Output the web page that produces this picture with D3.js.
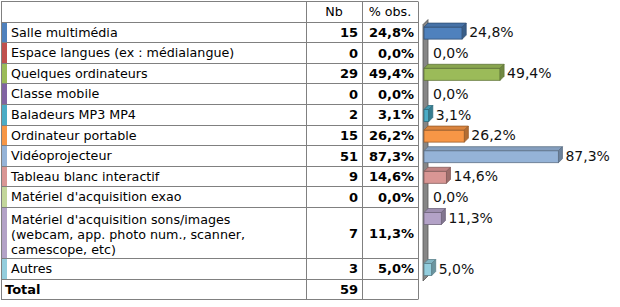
<!DOCTYPE html>
<html>
<head>
<meta charset="utf-8">
<script src="https://cdn.jsdelivr.net/npm/d3@7"></script>
<style>
  body { margin: 0; background: #fff; }
  svg { display: block; font-family: "DejaVu Sans", Verdana, sans-serif; }
</style>
</head>
<body>
<svg id="chart"></svg>
<script>
// data
let categories = [
  "Salle multimédia",
  "Espace langues (ex : médialangue)",
  "Quelques ordinateurs",
  "Classe mobile",
  "Baladeurs MP3 MP4",
  "Ordinateur portable",
  "Vidéoprojecteur",
  "Tableau blanc interactif",
  "Matériel d'acquisition exao",
  "Matériel d'acquisition sons/images\n(webcam, app. photo num., scanner,\ncamescope, etc)",
  "Autres",
];
let counts = [15, 0, 29, 0, 2, 15, 51, 9, 0, 7, 3];
let percents = [24.8, 0, 49.4, 0, 3.1, 26.2, 87.3, 14.6, 0, 11.3, 5.0];
let headers = ["", "Nb", "% obs."];
let totalLabel = "Total";
let totalCount = 59;

let colors = [
  "#4f81bd", "#c0504d", "#9bbb59", "#8064a2", "#4bacc6", "#f79646",
  "#95b3d7", "#d99694", "#c3d69b", "#b3a2c7", "#93cddd",
];

let width = 620;
let height = 307;
let rowH = 20.6;
let lineH = 15;
let gridColor = "#808080";

let svg = d3.select("#chart").attr("width", width).attr("height", height);

let fmt = (v) => v.toFixed(1).replace(".", ",") + "%";

// row layout: header, one row per category, total
let rows = [];
let y = 1;
rows.push({ type: "header", top: y, h: rowH });
y += rowH;
categories.forEach((c, i) => {
  let lines = c.split("\n");
  let h = lines.length > 1 ? lineH * lines.length + 6 : rowH;
  rows.push({ type: "data", i: i, lines: lines, top: y, h: h });
  y += h;
});
rows.push({ type: "total", top: y, h: rowH });
y += rowH;
let tableBottom = y;

// columns
let colX = [1, 306, 362, 418];

let table = svg.append("g");

// horizontal grid lines
let hLines = rows.map((r) => r.top).concat([tableBottom]);
table
  .selectAll("line.h")
  .data(hLines)
  .enter()
  .append("line")
  .attr("x1", colX[0])
  .attr("x2", colX[3])
  .attr("y1", (d) => Math.round(d) + 0.5)
  .attr("y2", (d) => Math.round(d) + 0.5)
  .attr("stroke", gridColor);

table
  .selectAll("line.v")
  .data(colX)
  .enter()
  .append("line")
  .attr("x1", (d) => d + 0.5)
  .attr("x2", (d) => d + 0.5)
  .attr("y1", Math.round(rows[0].top) + 0.5)
  .attr("y2", Math.round(tableBottom) + 0.5)
  .attr("stroke", gridColor);

// colour stripes
let dataRows = rows.filter((r) => r.type == "data");
table
  .selectAll("rect.stripe")
  .data(dataRows)
  .enter()
  .append("rect")
  .attr("x", 2)
  .attr("y", (d) => Math.round(d.top) + 1)
  .attr("width", 5)
  .attr("height", (d) => Math.round(d.top + d.h) - Math.round(d.top) - 1)
  .attr("fill", (d) => colors[d.i]);

// header texts
table
  .selectAll("text.head")
  .data([1, 2])
  .enter()
  .append("text")
  .attr("x", (c) => (colX[c] + colX[c + 1]) / 2)
  .attr("y", rows[0].top + 15)
  .attr("text-anchor", "middle")
  .attr("font-size", 12.7)
  .attr("fill", "#000")
  .text((c) => headers[c]);

// label texts
let labelSize = 12.7;
let valueSize = 13;
dataRows.forEach((r) => {
  let t = table
    .append("text")
    .attr("x", 11)
    .attr("font-size", labelSize)
    .attr("fill", "#000");
  let first = r.lines.length > 1 ? r.top + 17 : r.top + 15;
  r.lines.forEach((l, k) => {
    t.append("tspan").attr("x", 11).attr("y", first + k * lineH).text(l);
  });
  let vy = r.top + r.h / 2 + 5;
  table
    .append("text")
    .attr("x", colX[2] - 4)
    .attr("y", vy)
    .attr("text-anchor", "end")
    .attr("font-size", valueSize)
    .attr("font-weight", "bold")
    .text(counts[r.i]);
  table
    .append("text")
    .attr("x", colX[3] - 4)
    .attr("y", vy)
    .attr("text-anchor", "end")
    .attr("font-size", valueSize)
    .attr("font-weight", "bold")
    .text(fmt(percents[r.i]));
});

// total row
let tr = rows[rows.length - 1];
table
  .append("text")
  .attr("x", 5)
  .attr("y", tr.top + 15)
  .attr("font-size", valueSize)
  .attr("font-weight", "bold")
  .text(totalLabel);
table
  .append("text")
  .attr("x", colX[2] - 4)
  .attr("y", tr.top + 15)
  .attr("text-anchor", "end")
  .attr("font-size", valueSize)
  .attr("font-weight", "bold")
  .text(totalCount);

// 3D bar chart
let xScale = d3.scaleLinear().domain([0, 100]).range([424, 578]);
let depth = 4;
let chart = svg.append("g");

// wall
let wallTop = dataRows[0].top - 1;
let wallBottom = dataRows[dataRows.length - 1].top + 23;
let wx = xScale(0) - 1;
chart
  .append("polygon")
  .attr(
    "points",
    [
      [wx, wallTop + depth],
      [wx + depth + 1, wallTop - 1],
      [wx + depth + 1, wallBottom - depth - 1],
      [wx, wallBottom],
    ].join(" ")
  )
  .attr("fill", "#868686")
  .attr("stroke", "#555")
  .attr("stroke-width", 0.8);

let bars = chart
  .selectAll("g.bar")
  .data(dataRows)
  .enter()
  .append("g")
  .attr("class", "bar");

bars.each(function (r) {
  let g = d3.select(this);
  let v = percents[r.i];
  let x0 = xScale(0);
  let x1 = xScale(v);
  let y0 = r.top + 5.5;
  let y1 = r.top + 17.5;
  let c = d3.color(colors[r.i]);
  let edge = c.darker(1.3);
  if (v > 0) {
    g.append("rect")
      .attr("x", x0)
      .attr("y", y0)
      .attr("width", x1 - x0)
      .attr("height", y1 - y0)
      .attr("fill", c)
      .attr("stroke", edge)
      .attr("stroke-width", 0.8);
    g.append("polygon")
      .attr(
        "points",
        [
          [x0, y0],
          [x0 + depth, y0 - depth],
          [x1 + depth, y0 - depth],
          [x1, y0],
        ].join(" ")
      )
      .attr("fill", c.darker(0.35))
      .attr("stroke", edge)
      .attr("stroke-width", 0.8);
    g.append("polygon")
      .attr(
        "points",
        [
          [x1, y0],
          [x1 + depth, y0 - depth],
          [x1 + depth, y1 - depth],
          [x1, y1],
        ].join(" ")
      )
      .attr("fill", c.darker(0.9))
      .attr("stroke", edge)
      .attr("stroke-width", 0.8);
  }
  g.append("text")
    .attr("x", v > 0 ? x1 + depth + 3 : x0 + 9)
    .attr("y", (y0 + y1) / 2 + 4)
    .attr("font-size", 14)
    .attr("fill", "#111")
    .text(fmt(v));
});
</script>
</body>
</html>
